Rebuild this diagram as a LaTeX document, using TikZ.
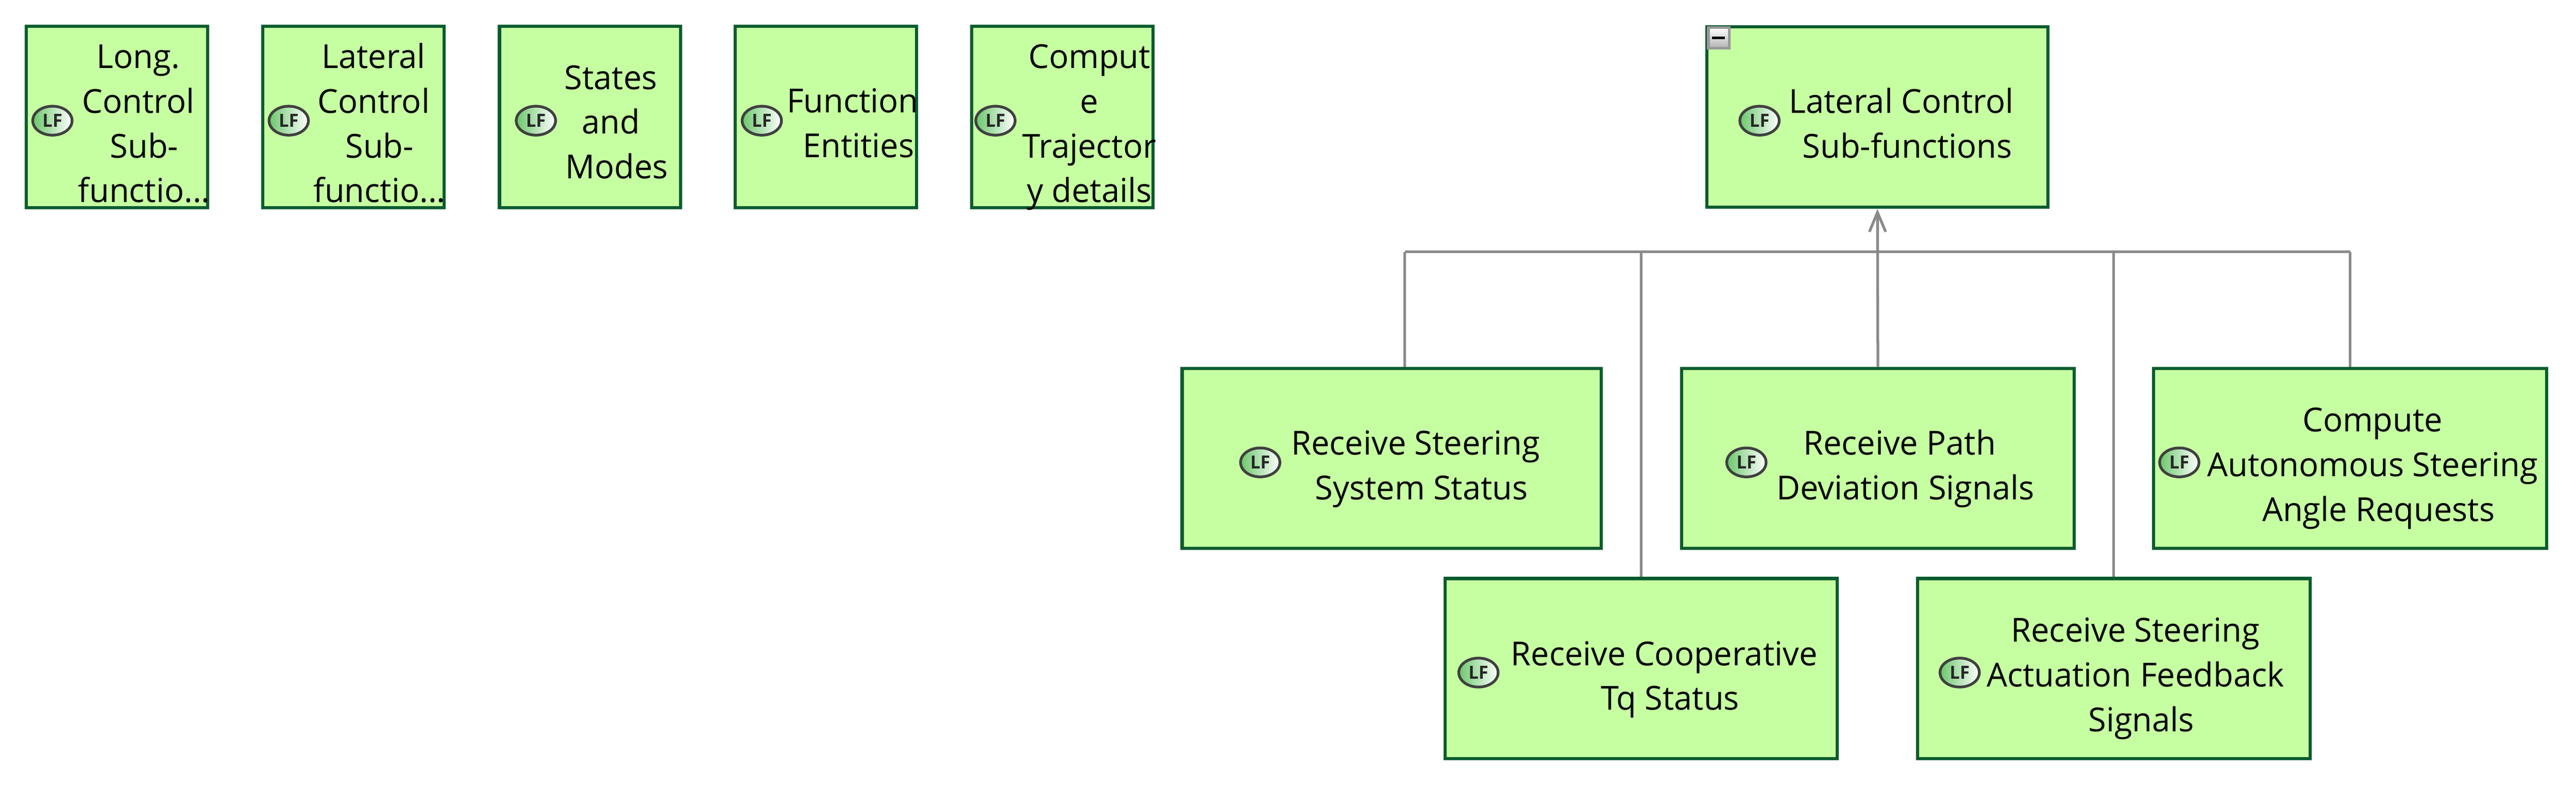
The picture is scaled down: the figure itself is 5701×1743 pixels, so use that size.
\documentclass[tikz,border=0pt]{standalone}
\usepackage{fontspec}
\setmainfont[FakeStretch=0.985]{Open Sans}
\usetikzlibrary{arrows.meta,shapes.geometric}
\definecolor{lfgreen}{RGB}{198,255,161}
\definecolor{lfline}{RGB}{10,92,46}
\definecolor{railgray}{RGB}{138,138,138}
\newcommand{\lfgap}{\hspace*{.36em}\null}
\tikzset{
  lfbox/.style={draw=lfline,fill=lfgreen,line width=.07cm,inner sep=0pt},
  smallbox/.style={lfbox,minimum width=4.01cm,minimum height=4.01cm},
  lfmark/.style={ellipse,draw=black!75,line width=.06cm,left color=green!45!gray!80,right color=white,
    minimum width=.87cm,minimum height=.64cm,inner sep=0pt,
    font=\fontsize{11.4}{12}\selectfont\bfseries,text=black!85},
  lftext/.style={align=center,anchor=base,inner sep=0pt,font=\fontsize{20.8}{28.1}\selectfont},
  rail/.style={draw=railgray,line width=.06cm},
  toparent/.style={-{Straight Barb[length=.43cm,width=.36cm]}}
}
\begin{document}
\begin{tikzpicture}
  [x=.01cm,y=-.01cm]
  \useasboundingbox (0,0) rectangle (5701,1743);

  \coordinate (r1) at (3109,557);
  \coordinate (r5) at (5201,557);

  \node[smallbox] (long) at (259,259) {};
  \node[smallbox] (lateral) at (782,259) {};
  \node[smallbox] (states) at (1306,259) {};
  \node[smallbox] (entities) at (1828,259) {};
  \node[smallbox] (trajectory) at (2351,259) {};
  \node[lfbox,minimum width=7.54cm,minimum height=3.99cm] (main) at (4155,259) {};
  \node[lfbox,minimum width=9.27cm,minimum height=3.98cm] (status) at (3080,1014) {};
  \node[lfbox,minimum width=8.68cm,minimum height=3.98cm] (path) at (4156,1014) {};
  \node[lfbox,minimum width=8.70cm,minimum height=3.98cm] (compute) at (5201,1014) {};
  \node[lfbox,minimum width=8.68cm,minimum height=3.98cm] (cooperative) at (3632,1479) {};
  \node[lfbox,minimum width=8.68cm,minimum height=3.98cm] (actuation) at (4678,1479) {};

  \draw[rail] (r1) -- (r5);
  \draw[rail] (r1) -- (r1 |- status.north);
  \draw[rail] (cooperative.north) -- (cooperative.north |- r1);
  \draw[rail] (actuation.north) -- (actuation.north |- r1);
  \draw[rail] (compute.north) -- (compute.north |- r1);
  \draw[rail,toparent] (path.north) -- (main.south);

  \node[lfmark] (m1) at (116,267) {LF};
  \node[lfmark] (m2) at (639,267) {LF};
  \node[lfmark] (m3) at (1186,267) {LF};
  \node[lfmark] (m4) at (1686,267) {LF};
  \node[lfmark] (m5) at (2203,267) {LF};
  \node[lfmark] (m6) at (3894,267) {LF};
  \node[lfmark] (m7) at (2789,1023) {LF};
  \node[lfmark] (m8) at (3865,1023) {LF};
  \node[lfmark] (m9) at (4823,1023) {LF};
  \node[lfmark] (m10) at (3272,1488) {LF};
  \node[lfmark] (m11) at (4337,1488) {LF};

  \node[lftext] (t1) at (319,448) {Long.\lfgap\\Control\lfgap\\Sub-\\functio...};
  \node[lftext] (t2) at (840,448) {Lateral\lfgap\\Control\lfgap\\Sub-\\functio...};
  \node[lftext] (t3) at (1365,395) {States\lfgap\\and\lfgap\\Modes};
  \node[lftext] (t4) at (1900,348) {Function\lfgap\\Entities};
  \node[lftext] (t5) at (2411,448) {Comput\\e\\Trajector\\y details};
  \node[lftext] (t6) at (4221,349) {Lateral Control\lfgap\\Sub-functions};
  \node[lftext] (t7) at (3146,1105) {Receive Steering\lfgap\\System Status};
  \node[lftext] (t8) at (4217,1105) {Receive Path\lfgap\\Deviation Signals};
  \node[lftext] (t9) at (5264,1153) {Compute\lfgap\\Autonomous Steering\lfgap\\Angle Requests};
  \node[lftext] (t10) at (3696,1571) {Receive Cooperative\lfgap\\Tq Status};
  \node[lftext] (t11) at (4739,1618) {Receive Steering\lfgap\\Actuation Feedback\lfgap\\Signals};

  \node[draw=black!40,line width=.06cm,top color=white,bottom color=black!30,minimum size=.46cm,inner sep=0pt] (fold) at (3804,84) {};
  \node[fill=black,minimum width=.29cm,minimum height=.06cm,inner sep=0pt] (foldbar) at (3803,84) {};
\end{tikzpicture}
\end{document}
